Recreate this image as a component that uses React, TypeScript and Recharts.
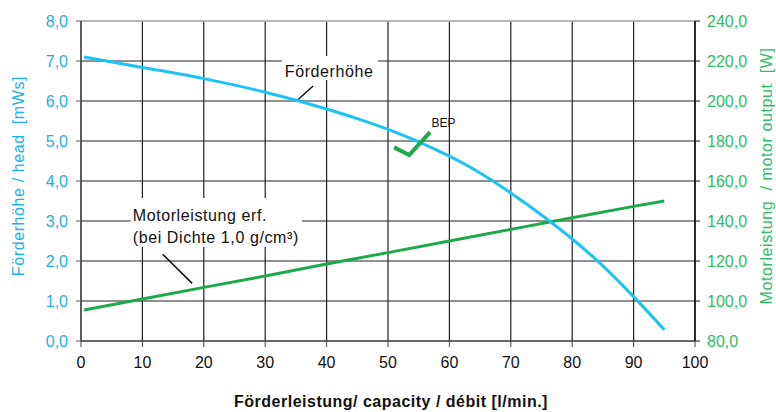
import { ComposedChart, Line, XAxis, YAxis, CartesianGrid, ReferenceLine, ReferenceArea, ReferenceDot } from "recharts";

// Förderhöhe (head) curve
const headFlow = [0.5, 10, 20, 30, 35, 40, 45, 50, 55, 60, 65, 70, 75, 80, 85, 90, 95];
const headValues = [7.1, 6.84, 6.56, 6.22, 6.02, 5.8, 5.56, 5.29, 4.98, 4.62, 4.2, 3.7, 3.15, 2.55, 1.88, 1.11, 0.28];

// Motorleistung (motor output, W)
const powerFlow = [0.5, 10, 20, 30, 40, 50, 60, 70, 80, 90, 95];
const powerValues = [95.5, 101, 106.8, 112.5, 118.5, 124.2, 130, 135.8, 141.6, 147.3, 150];

// BEP check mark
const bepFlow = [51, 53.45, 56.85];
const bepHead = [4.84, 4.65, 5.22];

const flowTicks = [0, 10, 20, 30, 40, 50, 60, 70, 80, 90, 100];
const headTicks = [0, 1, 2, 3, 4, 5, 6, 7, 8];
const powerTicks = [80, 100, 120, 140, 160, 180, 200, 220, 240];

const headData = headFlow.map((q, i) => ({ q, head: headValues[i] }));
const powerData = powerFlow.map((q, i) => ({ q, power: powerValues[i] }));
const bepData = bepFlow.map((q, i) => ({ q, head: bepHead[i] }));

const CYAN = "#1cc4f4";
const CYAN_TEXT = "#1fb0ec";
const GREEN = "#1ca94b";
const GREEN_TEXT = "#2dbd6a";
const FONT = "'Liberation Sans', Arial, sans-serif";

const comma = (v: number) => v.toFixed(1).replace(".", ",");

const BoxText = ({ viewBox, lines, dx, dy, gap }: any) => {
  if (!viewBox) return null;
  return (
    <text x={viewBox.x + dx} y={viewBox.y + dy} fontSize={16} fill="#111" style={{ letterSpacing: 0.6 }}>
      {lines.map((l: string, i: number) => (
        <tspan key={i} x={viewBox.x + dx} dy={i === 0 ? 0 : gap}>
          {l}
        </tspan>
      ))}
    </text>
  );
};

const LeftTitle = ({ viewBox }: any) => {
  const cx = viewBox.x - 13;
  const cy = viewBox.y + viewBox.height / 2 - 5;
  return (
    <text x={cx} y={cy} transform={`rotate(-90 ${cx} ${cy})`} textAnchor="middle" dominantBaseline="central" fontSize={16} fill={CYAN_TEXT} style={{ whiteSpace: "pre", letterSpacing: 0.6 }}>
      {"Förderhöhe / head  [mWs]"}
    </text>
  );
};

const RightTitle = ({ viewBox }: any) => {
  const cx = viewBox.x + 71;
  const cy = viewBox.y + viewBox.height / 2 - 5;
  return (
    <text x={cx} y={cy} transform={`rotate(-90 ${cx} ${cy})`} textAnchor="middle" dominantBaseline="central" fontSize={16} fill={GREEN_TEXT} style={{ whiteSpace: "pre", letterSpacing: 0.6 }}>
      {"Motorleistung  / motor output  [W]"}
    </text>
  );
};

const BottomTitle = ({ viewBox }: any) => (
  <text x={viewBox.x + viewBox.width / 2 + 3} y={406.5} textAnchor="middle" fontSize={16} fontWeight="bold" fill="#111" style={{ letterSpacing: 0.5 }}>
    Förderleistung/ capacity / débit [l/min.]
  </text>
);

const BepText = ({ viewBox }: any) => (
  <text x={viewBox.x} y={viewBox.y} fontSize={12} fill="#111">
    BEP
  </text>
);

export default function App() {
  return (
    <div style={{ position: "absolute", left: 0, top: 0, width: 776, height: 412, background: "#fff", fontFamily: FONT }}>
      <ComposedChart width={776} height={412} margin={{ top: 21, right: 21, bottom: 41, left: 31 }}>
        <CartesianGrid yAxisId="left" stroke="#222" strokeWidth={1.2} />
        <XAxis
          type="number"
          dataKey="q"
          domain={[0, 100]}
          ticks={flowTicks}
          height={30}
          tickSize={6}
          tickMargin={10}
          tick={{ fill: "#111", fontSize: 16, fontFamily: FONT }}
          axisLine={{ stroke: "#444" }}
          tickLine={{ stroke: "#444" }}
          allowDataOverflow
          label={<BottomTitle />}
        />
        <YAxis
          yAxisId="left"
          domain={[0, 8]}
          ticks={headTicks}
          width={50}
          tickSize={5}
          tickMargin={8}
          tickFormatter={comma}
          tick={{ fill: CYAN_TEXT, fontSize: 16, fontFamily: FONT }}
          axisLine={{ stroke: "#555", strokeWidth: 1.5 }}
          tickLine={{ stroke: "#555" }}
          label={<LeftTitle />}
        />
        <YAxis
          yAxisId="right"
          orientation="right"
          domain={[80, 240]}
          ticks={powerTicks}
          width={60}
          tickSize={5}
          tickMargin={7}
          tickFormatter={comma}
          tick={{ fill: GREEN_TEXT, fontSize: 16, fontFamily: FONT }}
          axisLine={{ stroke: "#111", strokeWidth: 1.5 }}
          tickLine={{ stroke: "#111" }}
          label={<RightTitle />}
        />
        <ReferenceLine yAxisId="left" y={8} stroke="#c4c4c4" strokeWidth={1.5} />

        <ReferenceArea
          yAxisId="left"
          x1={32.7}
          x2={48.4}
          y1={6.525}
          y2={7.125}
          fill="#fff"
          fillOpacity={1}
          stroke="none"
          label={<BoxText lines={["Förderhöhe"]} dx={3} dy={20.7} gap={0} />}
        />
        <ReferenceArea
          yAxisId="left"
          x1={8.1}
          x2={36}
          y1={2.35}
          y2={3.575}
          fill="#fff"
          fillOpacity={1}
          stroke="none"
          label={<BoxText lines={["Motorleistung erf.", "(bei Dichte 1,0 g/cm³)"]} dx={2} dy={22.7} gap={22} />}
        />
        <ReferenceLine yAxisId="left" segment={[{ x: 35.1, y: 6.0 }, { x: 37.8, y: 6.375 }]} stroke="#111" strokeWidth={1.5} />
        <ReferenceLine yAxisId="left" segment={[{ x: 13.3, y: 2.17 }, { x: 18.1, y: 1.44 }]} stroke="#111" strokeWidth={1.5} />

        <Line yAxisId="right" data={powerData} dataKey="power" type="linear" stroke={GREEN} strokeWidth={3} dot={false} isAnimationActive={false} />
        <Line yAxisId="left" data={headData} dataKey="head" type="monotone" stroke={CYAN} strokeWidth={3} dot={false} isAnimationActive={false} />
        <Line yAxisId="left" data={bepData} dataKey="head" type="linear" stroke={GREEN} strokeWidth={4} dot={false} isAnimationActive={false} />
        <ReferenceDot yAxisId="left" x={57.1} y={5.36} r={0} fill="none" stroke="none" label={<BepText />} />
      </ComposedChart>
    </div>
  );
}
